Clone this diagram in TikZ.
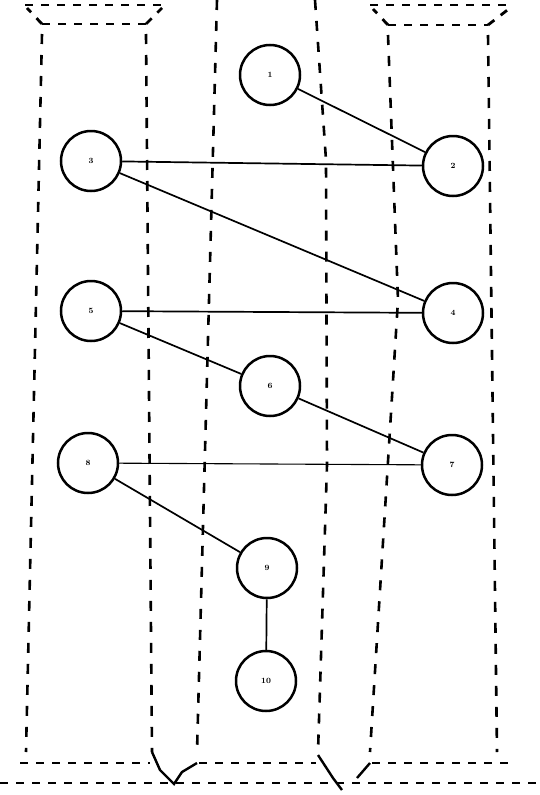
\documentclass[tikz,border=0pt]{standalone}
\begin{document}
\begin{tikzpicture}[x=1pt,y=-1pt,
  state/.style={circle,draw,line width=2.5pt,minimum size=60pt,inner sep=0pt,font=\footnotesize\bfseries},
  flow/.style={line width=1.7pt},
  thinflow/.style={line width=1.1pt},
  lane/.style={line width=2.8pt,dash pattern=on 8pt off 8pt},
  vlane/.style={line width=2.6pt,dash pattern=on 10pt off 11pt},
]
\useasboundingbox (0,0) rectangle (539,795);
% ---- lanes ----
% left lane
\draw[lane] (25,5) -- (165,5);
\draw[lane] (42,24) -- (146,24);
\draw[lane] (42,24) -- (27,8);
\draw[lane] (146,24) -- (162,8);
\draw[vlane] (42,34) -- (26,752);
\draw[vlane] (146,34) -- (152,752);
% middle lane
\draw[vlane] (217,0) -- (197,752);
\draw[vlane] (315,0) -- (326,160) -- (327,465) -- (318,752);
% right lane
\draw[lane] (370,5) -- (513,5);
\draw[lane] (388,25) -- (488,25);
\draw[lane] (388,25) -- (373,9);
\draw[lane] (488,25) -- (510,8);
\draw[vlane] (388,35) -- (398,300) -- (370,752);
\draw[vlane] (488,35) -- (497,752);
% bottom
\draw[lane] (20,763) -- (150,763);
\draw[lane] (199,763) -- (316,763);
\draw[lane] (372,763) -- (508,763);
\draw[line width=2.4pt] (152,752) -- (160,770) -- (174,784) -- (182,772) -- (197,763);
\draw[line width=2.4pt] (318,755) -- (333,778) -- (342,790);
\draw[line width=2.4pt] (357,778) -- (370,763);
\draw[lane] (0,783) -- (539,783);
% ---- states ----
\node[state] (n1) at (270,75) {1};
\node[state] (n2) at (453,166) {2};
\node[state] (n3) at (91,161) {3};
\node[state] (n4) at (453,313) {4};
\node[state] (n5) at (91,311) {5};
\node[state] (n6) at (270,386) {6};
\node[state] (n7) at (452,465) {7};
\node[state] (n8) at (88,463) {8};
\node[state] (n9) at (267,568) {9};
\node[state] (n10) at (266,681) {10};
% ---- flows ----
\draw[flow] (n1) -- (n2);
\draw[flow] (n3) -- (n2);
\draw[flow] (n3) -- (n4);
\draw[flow] (n5) -- (n4);
\draw[flow] (n5) -- (n6);
\draw[flow] (n6) -- (n7);
\draw[thinflow] (n8) -- (n7);
\draw[flow] (n8) -- (n9);
\draw[flow] (n9) -- (n10);
\end{tikzpicture}
\end{document}
